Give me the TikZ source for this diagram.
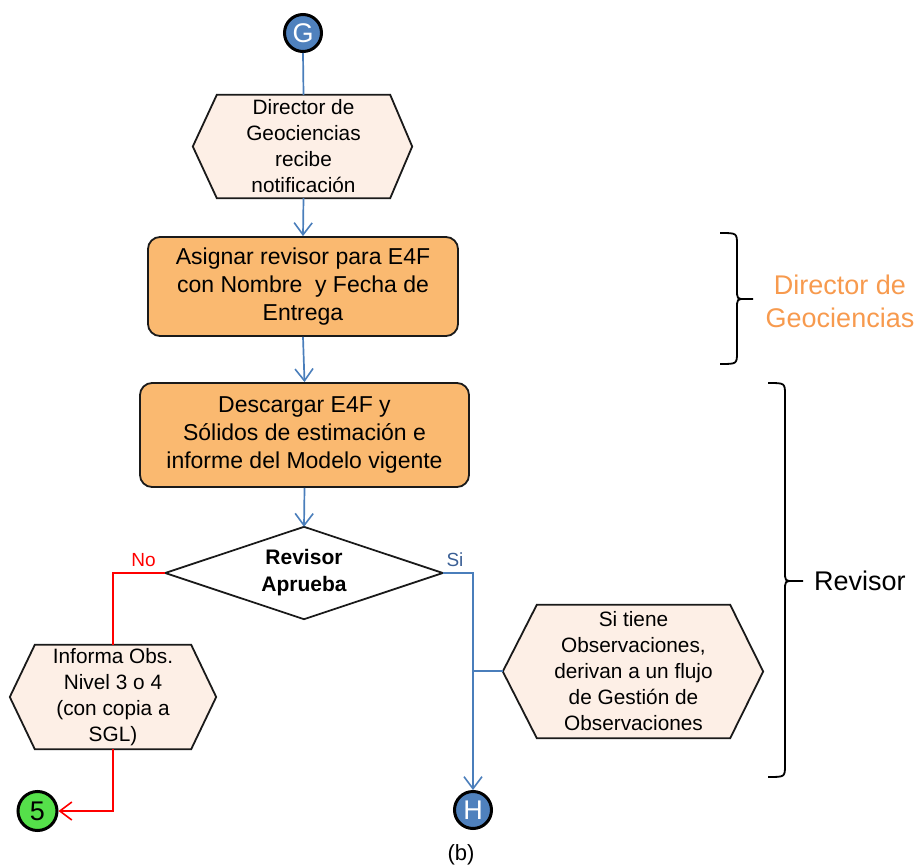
\documentclass[tikz,border=0pt]{standalone}
\usepackage{fontspec}
\setmainfont{Liberation Sans}
\usetikzlibrary{arrows.meta,backgrounds,calc}
\definecolor{hexfill}{HTML}{FDEFE6}
\definecolor{orfill}{HTML}{FAB970}
\definecolor{cblue}{HTML}{4F81BD}
\definecolor{lblue}{HTML}{4A7EBB}
\definecolor{sitxt}{HTML}{3A5F95}
\definecolor{cgreen}{HTML}{55E04A}
\definecolor{orlabel}{HTML}{F79A4E}
\definecolor{edge}{HTML}{1A1A1A}
\begin{document}
\begin{tikzpicture}[x=1pt,y=-1pt,
  txt/.style={inner sep=0pt, align=center, font=\fontsize{20.8}{26}\selectfont},
  hexbox/.style={txt},
  hexshape/.style={draw=edge, fill=hexfill, line width=1.8pt, line join=miter},
  obox/.style={draw=edge, fill=orfill, line width=1.8pt, rounded corners=12pt, inner sep=0pt, align=center, font=\fontsize{23}{28}\selectfont},
  dtext/.style={inner sep=0pt, align=center, font=\fontsize{21}{27}\selectfont\bfseries},
  dshape/.style={draw=edge, fill=white, line width=1.8pt},
  circ/.style={circle, draw=black, line width=3pt, minimum size=37pt, inner sep=0pt, font=\fontsize{27}{27}\selectfont},
  bline/.style={draw=lblue, line width=1.7pt},
  rline/.style={draw=red, line width=1.7pt},
  arr/.style={-{Straight Barb[length=12pt,width=18pt,line width=1.6pt]}},
  lbl/.style={inner sep=0pt, font=\fontsize{19}{19}\selectfont},
  brace/.style={draw=black, line width=1.8pt},
  side/.style={inner sep=0pt, align=center, font=\fontsize{27}{33}\selectfont}
]
\useasboundingbox (0,0) rectangle (922,867);

% nodes
\node[circ, fill=cblue, text=white] (G) at (303,33) {G};
\node[hexbox, minimum width=173pt, minimum height=103pt] (h1) at (303.5,146.5) {Director de\\Geociencias\\recibe\\notificación};
\node[obox, minimum width=310pt, minimum height=99pt] (b1) at (303,286.5) {Asignar revisor para E4F\\con Nombre~ y Fecha de\\Entrega};
\node[obox, minimum width=329pt, minimum height=104pt] (b2) at (304.5,435) {Descargar E4F y\\Sólidos de estimación e\\informe del Modelo vigente};
\node[dtext, minimum width=277pt, minimum height=92pt] (dia) at (304,573) {Revisor\\Aprueba};
\node[hexbox, minimum width=156pt, minimum height=104pt] (h2) at (113,697) {Informa Obs.\\Nivel 3 o 4\\(con copia a\\SGL)};
\node[hexbox, minimum width=193pt, minimum height=133pt] (h3) at (633.5,671.5) {Si tiene\\Observaciones,\\derivan a un flujo\\de Gestión de\\Observaciones};
\node[circ, fill=cgreen, text=black, minimum size=39pt] (five) at (37.5,811) {5};
\node[circ, fill=cblue, text=white] (H) at (473,810) {H};

% shapes behind text
\begin{pgfonlayer}{background}
\path[hexshape] (h1.north west) -- (h1.north east) -- ([xshift=22pt]h1.east) -- (h1.south east) -- (h1.south west) -- ([xshift=-24pt]h1.west) -- cycle;
\path[hexshape] (h2.north west) -- (h2.north east) -- ([xshift=25pt]h2.east) -- (h2.south east) -- (h2.south west) -- ([xshift=-25pt]h2.west) -- cycle;
\path[hexshape] (h3.north west) -- (h3.north east) -- ([xshift=33pt]h3.east) -- (h3.south east) -- (h3.south west) -- ([xshift=-34pt]h3.west) -- cycle;
\path[dshape] (dia.north) -- (dia.east) -- (dia.south) -- (dia.west) -- cycle;
\end{pgfonlayer}

% connectors
\draw[bline] (G.south) -- (h1.north);
\draw[bline, arr] (h1.south) -- (b1.north);
\draw[bline, arr] (b1.south) -- (b2.north);
\draw[bline, arr] (b2.south) -- (dia.north);
\draw[rline] (dia.west) -| (h2.north);
\draw[rline, arr] (h2.south) |- (five.east);
\draw[bline, arr] (dia.east) -| (H.north);
\coordinate (h3tip) at ([xshift=-34pt,yshift=0.5pt]h3.west);
\draw[bline] (h3tip) -- (h3tip -| H.north);

% branch labels
\node[lbl, text=red, anchor=south] (no) at (143.5,567) {No};
\node[lbl, text=sitxt, anchor=south] (si) at (455,567) {Si};

% braces
\draw[brace] (720,233) .. controls (737,233) .. (737,245) -- (737,289) .. controls (737,299) .. (745,299) -- (753,299);
\draw[brace] (720,364) .. controls (737,364) .. (737,352) -- (737,309) .. controls (737,299) .. (745,299);
\draw[brace] (768,383) .. controls (785,383) .. (785,395) -- (785,571) .. controls (785,581) .. (793,581) -- (803,581);
\draw[brace] (768,777) .. controls (785,777) .. (785,765) -- (785,591) .. controls (785,581) .. (793,581);

\node[side, text=orlabel] (dirlbl) at (840,301) {Director de\\Geociencias};
\node[side, anchor=west] (revlbl) at (814,581) {Revisor};

\node[inner sep=0pt, anchor=base, font=\fontsize{22}{22}\selectfont] (cap) at (461,860) {(b)};
\end{tikzpicture}
\end{document}
